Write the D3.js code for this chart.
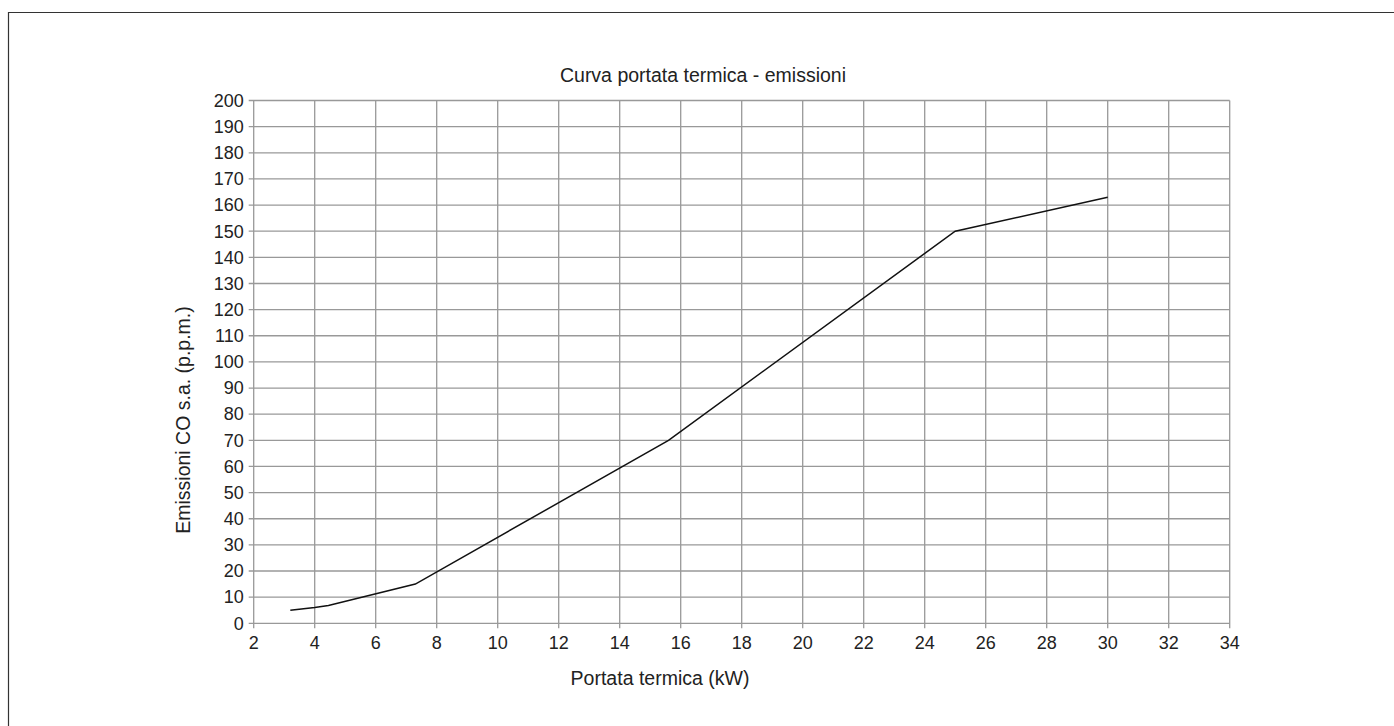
<!DOCTYPE html>
<html>
<head>
<meta charset="utf-8">
<script src="https://cdn.jsdelivr.net/npm/d3@7"></script>
<style>
  body { margin: 0; background: #fff; }
  text { font-family: "Liberation Sans", Arial, sans-serif; fill: #222; }
</style>
</head>
<body>
<div id="chart"></div>
<script>
(function() {
  var width = 1394;
  var height = 726;

  // data
  var portata = [3.2, 4, 4.45, 7.3, 15.6, 25, 30];
  var emissioni = [5, 6, 6.8, 15, 70, 150, 163];
  var xTicks = [2, 4, 6, 8, 10, 12, 14, 16, 18, 20, 22, 24, 26, 28, 30, 32, 34];
  var yTicks = d3.range(0, 201, 10);

  var points = portata.map(function(d, i) {
    return { x: d, y: emissioni[i] };
  });

  var svg = d3
    .select("#chart")
    .append("svg")
    .attr("width", width)
    .attr("height", height);

  // frame (only left and top edges show)
  svg.append("path")
    .attr("d", "M8.5," + height + "V12.5H" + width)
    .attr("fill", "none")
    .attr("stroke", "#333")
    .attr("stroke-width", 1.2);

  var x = d3.scaleLinear().domain([2, 34]).range([253.7, 1229.7]);
  var y = d3.scaleLinear().domain([0, 200]).range([623.3, 100.5]);

  var gridColor = "#999";

  // vertical grid
  svg.append("g")
    .selectAll("line")
    .data(xTicks)
    .enter()
    .append("line")
    .attr("x1", function(d) { return x(d); })
    .attr("x2", function(d) { return x(d); })
    .attr("y1", y(200))
    .attr("y2", y(0) + 5)
    .attr("stroke", gridColor)
    .attr("stroke-width", 1.3);

  // horizontal grid
  svg.append("g")
    .selectAll("line")
    .data(yTicks)
    .enter()
    .append("line")
    .attr("x1", x(2) - 5)
    .attr("x2", x(34))
    .attr("y1", function(d) { return y(d); })
    .attr("y2", function(d) { return y(d); })
    .attr("stroke", gridColor)
    .attr("stroke-width", 1.3);

  // tick labels
  svg.append("g")
    .selectAll("text")
    .data(yTicks)
    .enter()
    .append("text")
    .attr("x", x(2) - 10)
    .attr("y", function(d) { return y(d); })
    .attr("dy", "0.35em")
    .attr("text-anchor", "end")
    .attr("font-size", 18)
    .text(function(d) { return d; });

  svg.append("g")
    .selectAll("text")
    .data(xTicks)
    .enter()
    .append("text")
    .attr("x", function(d) { return x(d); })
    .attr("y", y(0) + 26)
    .attr("text-anchor", "middle")
    .attr("font-size", 18)
    .text(function(d) { return d; });

  // the curve
  var line = d3.line()
    .x(function(d) { return x(d.x); })
    .y(function(d) { return y(d.y); });

  svg.append("path")
    .datum(points)
    .attr("d", line)
    .attr("fill", "none")
    .attr("stroke", "#111")
    .attr("stroke-width", 1.5);

  // titles
  svg.append("text")
    .attr("x", 703)
    .attr("y", 82)
    .attr("text-anchor", "middle")
    .attr("font-size", 19.5)
    .text("Curva portata termica - emissioni");

  svg.append("text")
    .attr("x", 660)
    .attr("y", 685)
    .attr("text-anchor", "middle")
    .attr("font-size", 19.5)
    .text("Portata termica (kW)");

  svg.append("text")
    .attr("transform", "translate(190,420) rotate(-90)")
    .attr("text-anchor", "middle")
    .attr("font-size", 19.5)
    .text("Emissioni CO s.a. (p.p.m.)");
})();
</script>
</body>
</html>
